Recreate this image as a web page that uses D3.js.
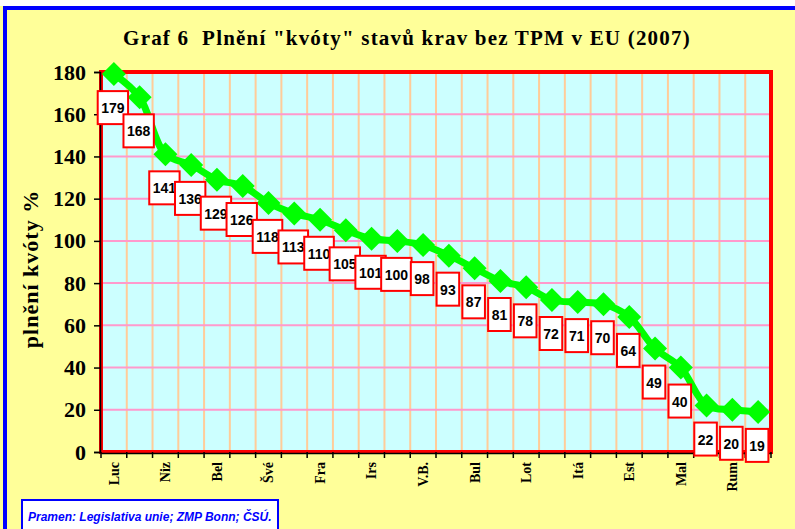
<!DOCTYPE html>
<html>
<head>
<meta charset="utf-8">
<script src="https://cdn.jsdelivr.net/npm/d3@7"></script>
<style>
	body { margin: 0; background: #fff; }
	svg { display: block; }
</style>
</head>
<body>
<div id="chart"></div>
<script>
// chart data
var categories = ['Luc', '', 'Niz', '', 'Bel', '', 'Švé', '', 'Fra', '', 'Irs', '', 'V.B.', '', 'Bul', '', 'Lot', '', 'Itá', '', 'Est', '', 'Mal', '', 'Rum', ''];
var values = [179, 168, 141, 136, 129, 126, 118, 113, 110, 105, 101, 100, 98, 93, 87, 81, 78, 72, 71, 70, 64, 49, 40, 22, 20, 19];
var yTicks = [0, 20, 40, 60, 80, 100, 120, 140, 160, 180];

var width = 795, height = 529;
var plot = {left: 101, top: 72, right: 771, bottom: 452};

var svg = d3.select('#chart').append('svg')
	.attr('width', width)
	.attr('height', height);

// background + frame
svg.append('rect').attr('x', 0).attr('y', 0).attr('width', width).attr('height', height).attr('fill', '#ffff99');
svg.append('rect').attr('x', 0).attr('y', 0).attr('width', width).attr('height', 6).attr('fill', '#fff');
svg.append('rect').attr('x', 3).attr('y', 6).attr('width', width).attr('height', 4).attr('fill', '#0000ff');
svg.append('rect').attr('x', 3).attr('y', 6).attr('width', 4).attr('height', height).attr('fill', '#0000ff');

var x = d3.scaleBand()
	.domain(d3.range(values.length))
	.range([plot.left, plot.right])
	.padding(0);

var y = d3.scaleLinear()
	.domain([0, 180])
	.range([plot.bottom, plot.top]);

var cx = function(d, i) { return x(i) + x.bandwidth() / 2; };

// plot area
svg.append('rect')
	.attr('x', plot.left).attr('y', plot.top)
	.attr('width', plot.right - plot.left).attr('height', plot.bottom - plot.top)
	.attr('fill', '#ccffff');

// vertical grid (between categories)
svg.append('g').selectAll('line').data(d3.range(1, values.length)).enter().append('line')
	.attr('x1', function(d) { return x(d); })
	.attr('x2', function(d) { return x(d); })
	.attr('y1', plot.top).attr('y2', plot.bottom)
	.attr('stroke', '#ffcc99').attr('stroke-width', 2);

// horizontal grid
svg.append('g').selectAll('line').data(yTicks.filter(function(t) { return t > 0 && t < 180; })).enter().append('line')
	.attr('x1', plot.left).attr('x2', plot.right)
	.attr('y1', y).attr('y2', y)
	.attr('stroke', '#ff99cc').attr('stroke-width', 2);

// red border
svg.append('rect')
	.attr('x', plot.left).attr('y', plot.top)
	.attr('width', plot.right - plot.left).attr('height', plot.bottom - plot.top)
	.attr('fill', 'none').attr('stroke', '#ff0000').attr('stroke-width', 4);

// y axis
var yAxis = d3.axisLeft(y).tickValues(yTicks).tickSize(6).tickPadding(8);
var gy = svg.append('g').attr('transform', 'translate(' + (plot.left - 1) + ',0)').call(yAxis);
gy.select('.domain').attr('stroke', '#000').attr('stroke-width', 1.5);
gy.selectAll('.tick line').attr('stroke', '#000').attr('stroke-width', 1.5);
gy.selectAll('.tick text')
	.attr('font-family', '"Liberation Serif", serif')
	.attr('font-weight', 'bold')
	.attr('font-size', '22px')
	.attr('fill', '#000');

// x axis
var xAxis = d3.axisBottom(x).tickSize(0).tickFormat(function(d) { return categories[d]; });
var gx = svg.append('g').attr('transform', 'translate(0,' + (plot.bottom + 1) + ')').call(xAxis);
gx.select('.domain').attr('stroke', '#000').attr('stroke-width', 1.5);
gx.selectAll('.tick text')
	.attr('font-family', '"Liberation Serif", serif')
	.attr('font-weight', 'bold')
	.attr('font-size', '14px')
	.attr('fill', '#000')
	.attr('text-anchor', 'end')
	.attr('dy', '0.35em')
	.attr('transform', 'translate(0,9) rotate(-90)')
	.attr('x', 0).attr('y', 0);

// x tick marks between categories
svg.append('g').selectAll('line').data(d3.range(0, values.length + 1)).enter().append('line')
	.attr('x1', function(d) { return plot.left + d * x.bandwidth(); })
	.attr('x2', function(d) { return plot.left + d * x.bandwidth(); })
	.attr('y1', plot.bottom).attr('y2', plot.bottom + 6)
	.attr('stroke', '#000').attr('stroke-width', 1.5);

// line
var line = d3.line()
	.x(cx)
	.y(function(d) { return y(d); })
	.curve(d3.curveCatmullRom.alpha(0.5));

svg.append('path')
	.datum(values)
	.attr('d', line)
	.attr('fill', 'none')
	.attr('stroke', '#00ff00')
	.attr('stroke-width', 7);

// diamond markers
var dr = 12;
svg.append('g').selectAll('path').data(values).enter().append('path')
	.attr('d', 'M0,' + (-dr) + 'L' + dr + ',0L0,' + dr + 'L' + (-dr) + ',0Z')
	.attr('transform', function(d, i) { return 'translate(' + cx(d, i) + ',' + y(d) + ')'; })
	.attr('fill', '#00ff00');

// data labels
var labels = svg.append('g').selectAll('g').data(values).enter().append('g')
	.attr('transform', function(d, i) { return 'translate(' + (cx(d, i) - 1) + ',' + (y(d) + 17) + ')'; });

labels.each(function(d) {
	var g = d3.select(this);
	var rect = g.append('rect');
	var t = g.append('text')
		.attr('text-anchor', 'middle')
		.attr('y', 22)
		.attr('font-family', '"Liberation Sans", Arial, sans-serif')
		.attr('font-weight', 'bold')
		.attr('font-size', '14px')
		.attr('fill', '#000')
		.text(d);
	var w = t.node().getComputedTextLength() + 7;
	rect.attr('x', -w / 2).attr('y', 0).attr('width', w).attr('height', 33)
		.attr('fill', '#fff').attr('stroke', '#ff0000').attr('stroke-width', 2);
});

// y axis title
svg.append('text')
	.attr('transform', 'translate(38,269) rotate(-90)')
	.attr('text-anchor', 'middle')
	.attr('font-family', '"Liberation Serif", serif')
	.attr('font-weight', 'bold')
	.attr('font-size', '22px')
	.attr('letter-spacing', '1px')
	.text('plnění kvóty %');

// title
svg.append('text')
	.attr('x', 407).attr('y', 45)
	.attr('text-anchor', 'middle')
	.attr('font-family', '"Liberation Serif", serif')
	.attr('font-weight', 'bold')
	.attr('font-size', '21px')
	.attr('letter-spacing', '1.2px')
	.attr('xml:space', 'preserve')
	.text('Graf 6  Plnění "kvóty" stavů krav bez TPM v EU (2007)');

// source box
svg.append('rect')
	.attr('x', 22).attr('y', 500).attr('width', 256).attr('height', 40)
	.attr('fill', '#fff').attr('stroke', '#0000ff').attr('stroke-width', 2);
svg.append('text')
	.attr('x', 28).attr('y', 521)
	.attr('font-family', '"Liberation Sans", Arial, sans-serif')
	.attr('font-weight', 'bold')
	.attr('font-style', 'italic')
	.attr('font-size', '12px')
	.attr('fill', '#0000ff')
	.text('Pramen: Legislativa unie; ZMP Bonn; ČSÚ.');
</script>
</body>
</html>
